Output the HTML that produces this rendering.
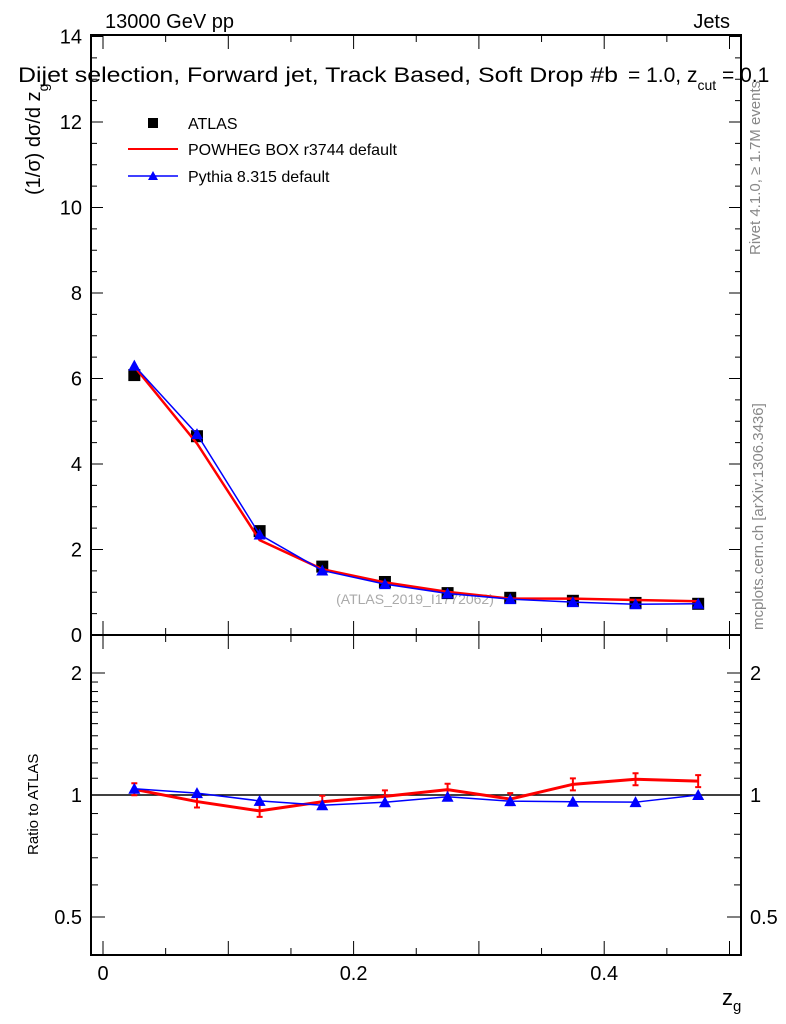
<!DOCTYPE html>
<html><head><meta charset="utf-8"><style>body{margin:0;background:#fff}svg{display:block;font-family:"Liberation Sans",sans-serif}</style></head>
<body>
<svg id="c" width="786" height="1024" xmlns="http://www.w3.org/2000/svg">
<text x="105" y="28" font-size="20">13000 GeV pp</text>
<text x="730" y="28" font-size="20" text-anchor="end">Jets</text>
<g>
<text x="18" y="82" font-size="21" textLength="600" lengthAdjust="spacingAndGlyphs">Dijet selection, Forward jet, Track Based, Soft Drop #b</text>
<text x="628" y="82" font-size="21">= 1.0, z<tspan font-size="14" dy="8">cut</tspan><tspan dy="-8"> = 0.1</tspan></text>
</g>
<text transform="translate(40,195) rotate(-90)" font-size="20">(1/σ) dσ/d z<tspan font-size="14" dy="8">g</tspan></text>
<text transform="translate(38,855) rotate(-90)" font-size="15">Ratio to ATLAS</text>
<text x="722" y="1005" font-size="22">z<tspan font-size="15" dy="6">g</tspan></text>
<text transform="translate(760,255) rotate(-90)" font-size="15" fill="#888">Rivet 4.1.0, ≥ 1.7M events</text>
<text transform="translate(763,630) rotate(-90)" font-size="15" fill="#888">mcplots.cern.ch [arXiv:1306.3436]</text>
<text x="415" y="604" font-size="14" fill="#aaa" text-anchor="middle">(ATLAS_2019_I1772062)</text>
<g id="g"></g>
<g>
<rect x="148" y="118" width="10" height="10" fill="#000"/>
<text x="188" y="129" font-size="16">ATLAS</text>
<line x1="128" y1="149" x2="178" y2="149" stroke="#f00" stroke-width="2"/>
<text x="188" y="155" font-size="16">POWHEG BOX r3744 default</text>
<line x1="128" y1="176" x2="178" y2="176" stroke="#00f" stroke-width="1.5"/>
<path d="M153,171 L158,180 L148,180Z" fill="#00f"/>
<text x="188" y="182" font-size="16">Pythia 8.315 default</text>
</g>
</svg>
<script>
const xCenters=[0.025,0.075,0.125,0.175,0.225,0.275,0.325,0.375,0.425,0.475];
const atlas=[6.08,4.65,2.43,1.60,1.24,0.98,0.87,0.80,0.75,0.73];
const powheg=[6.28,4.48,2.22,1.54,1.23,1.01,0.85,0.85,0.82,0.79];
const pythia=[6.30,4.70,2.35,1.51,1.19,0.97,0.84,0.77,0.72,0.73];
const mainTicks=[0,2,4,6,8,10,12,14];
const ratioTicks=[0.5,1,2];
const xTicks=[0,0.2,0.4];
const NS='http://www.w3.org/2000/svg',g=document.getElementById('g');
const X=v=>103+v*1253, Y=v=>635-v*42.75, R=v=>795-Math.log2(v)*122;
function el(t,a){const e=document.createElementNS(NS,t);for(const k in a)e.setAttribute(k,a[k]);g.appendChild(e);return e;}
let e;
e=el('rect',{x:91,y:35,width:650,height:600,fill:'none',stroke:'#000','stroke-width':2});


e=el('rect',{x:91,y:635,width:650,height:320,fill:'none',stroke:'#000','stroke-width':2});


for(let v=0;v<=14;v+=0.5){const y=Y(v),L=v%2===0?12:6;el('line',{x1:91,y1:y,x2:91+L,y2:y,stroke:'#000'});el('line',{x1:741,y1:y,x2:741-L,y2:y,stroke:'#000'});}
mainTicks.forEach(v=>{e=el('text',{x:82,y:Y(v)+7,'font-size':20,'text-anchor':'end'});e.textContent=v;

});
for(let v=0;v<=0.5;v+=0.05){const x=X(v),L=Math.abs(v/0.1-Math.round(v/0.1))<1e-6?14:7;
[[635,-1],[35,1],[955,-1]].forEach(([b,s])=>el('line',{x1:x,y1:b,x2:x,y2:b+s*L,stroke:'#000'}));el('line',{x1:x,y1:635,x2:x,y2:635+L,stroke:'#000'});}
xTicks.forEach(v=>{e=el('text',{x:X(v),y:980,'font-size':20,'text-anchor':'middle'});e.textContent=v;

});
[0.5,0.6,0.7,0.8,0.9,1,1.1,1.2,1.3,1.4,1.5,1.6,1.7,1.8,1.9,2].forEach(v=>{const y=R(v),L=ratioTicks.includes(v)?14:7;el('line',{x1:91,y1:y,x2:91+L,y2:y,stroke:'#000'});el('line',{x1:741,y1:y,x2:741-L,y2:y,stroke:'#000'});});
ratioTicks.forEach(v=>{[[82,'end'],[750,'start']].forEach(([x,a])=>{e=el('text',{x:x,y:R(v)+7,'font-size':20,'text-anchor':a});e.textContent=v;

});});
e=el('line',{x1:91,y1:R(1),x2:741,y2:R(1),stroke:'#000','stroke-width':1.5});


atlas.forEach((v,i)=>{e=el('rect',{x:X(xCenters[i])-6,y:Y(v)-6,width:12,height:12,fill:'#000'});

});
function line(vals,f,col,w,name){e=el('polyline',{points:vals.map((v,i)=>X(xCenters[i])+','+f(v,i)).join(' '),fill:'none',stroke:col,'stroke-width':w});

}
function tris(vals,f,name){vals.forEach((v,i)=>{const x=X(xCenters[i]),y=f(v,i);e=el('path',{d:`M${x},${y-6}L${x+6},${y+5}L${x-6},${y+5}Z`,fill:'#00f'});

});}
line(powheg,v=>Y(v),'#f00',2.5,'powheg-line');
line(pythia,v=>Y(v),'#00f',1.5,'pythia-line');
tris(pythia,v=>Y(v),'pythia-point');
line(powheg,(v,i)=>R(v/atlas[i]),'#f00',3,'powheg-ratio-line');
powheg.forEach((v,i)=>{const x=X(xCenters[i]),y=R(v/atlas[i]);el('path',{d:`M${x},${y-6}V${y+6}M${x-3},${y-6}H${x+3}M${x-3},${y+6}H${x+3}`,stroke:'#f00','stroke-width':2,fill:'none'});});
line(pythia,(v,i)=>R(v/atlas[i]),'#00f',1.5,'pythia-ratio-line');
tris(pythia,(v,i)=>R(v/atlas[i]),'pythia-ratio-point');
</script>
</body></html>
